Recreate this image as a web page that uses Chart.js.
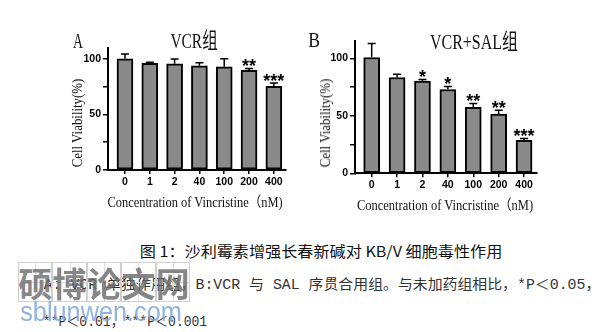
<!DOCTYPE html>
<html>
<head>
<meta charset="utf-8">
<script src="https://cdn.jsdelivr.net/npm/chart.js@4.4.1/dist/chart.umd.min.js"></script>
<style>
  body { margin: 0; width: 615px; height: 332px; background: #fff; position: relative; overflow: hidden; }
  canvas { position: absolute; }
  .t { position: absolute; white-space: nowrap; transform-origin: 0 0; line-height: 1; color: #111; }
  .box { position: absolute; border: 1px solid #cfcfcf; box-sizing: border-box; }
  .box::before { content: ''; position: absolute; left: 50%; top: 0; bottom: 0; border-left: 1px solid #dedede; }
  .box::after { content: ''; position: absolute; top: 50%; left: 0; right: 0; border-top: 1px solid #dedede; }
</style>
</head>
<body>
<canvas id="chartA" width="300" height="215" style="left:0;top:0"></canvas>
<canvas id="chartB" width="310" height="215" style="left:305px;top:0"></canvas>
<script>
const doses = ['0', '1', '2', '40', '100', '200', '400'];
const yTicks = [0, 25, 50, 75, 100];

// VCR alone
const vcrMean = [100, 95.9, 95.5, 93.7, 92.8, 89.6, 75.2];
const vcrErr = [4.2, 0.9, 4.2, 2.7, 7.2, 1.7, 3.0];
const vcrStars = ['', '', '', '', '', '**', '***'];

// VCR + SAL
const salMean = [100.9, 83.5, 80.3, 73.0, 57.4, 51.6, 28.7];
const salErr = [12.1, 2.8, 1.4, 2.7, 3.5, 3.4, 1.7];
const salStars = ['', '', '*', '*', '**', '**', '***'];

const tickFont = "'Liberation Sans Narrow', 'Liberation Sans', Arial, sans-serif";

// upper error bar with cap, plus significance stars
const errorBars = {
    id: 'errorBars',
    afterDatasetsDraw(chart, args, opts) {
        const { ctx } = chart;
        const y = chart.scales.y;
        const meta = chart.getDatasetMeta(0);
        const size = 18;
        ctx.save();
        ctx.strokeStyle = '#000';
        ctx.fillStyle = '#000';
        ctx.lineWidth = 1.5;
        ctx.font = `bold ${size}px 'Liberation Sans', Arial, sans-serif`;
        ctx.textAlign = 'center';
        ctx.textBaseline = 'alphabetic';
        meta.data.forEach((bar, i) => {
            const top = y.getPixelForValue(opts.means[i] + opts.errors[i]);
            ctx.beginPath();
            ctx.moveTo(bar.x, bar.y);
            ctx.lineTo(bar.x, top);
            ctx.moveTo(bar.x - 4, top);
            ctx.lineTo(bar.x + 4, top);
            ctx.stroke();
            if (opts.stars[i]) {
                ctx.fillText(opts.stars[i], bar.x, top - 6.5 + 0.57 * size);
            }
        });
        ctx.restore();
    }
};

function makeChart(id, means, errors, stars, g) {
    new Chart(document.getElementById(id), {
        type: 'bar',
        data: {
            datasets: [{
                data: means.map((v, i) => ({ x: i, y: v })),
                backgroundColor: '#8a8a8a',
                borderColor: '#000',
                borderWidth: 2,
                borderSkipped: false,
                barThickness: 16
            }]
        },
        options: {
            responsive: false,
            animation: false,
            layout: { padding: g.padding },
            plugins: {
                legend: { display: false },
                tooltip: { enabled: false },
                errorBars: { means, errors, stars }
            },
            scales: {
                x: {
                    type: 'linear',
                    min: g.xMin,
                    max: g.xMax,
                    offset: false,
                    afterBuildTicks: (s) => { s.ticks = doses.map((_, i) => ({ value: i })); },
                    afterFit: (s) => { s.height = 20; },
                    grid: { drawOnChartArea: false, offset: false, tickLength: 4, color: '#000', lineWidth: 1.5 },
                    border: { color: '#000', width: 2 },
                    ticks: {
                        callback: (v) => doses[v],
                        color: '#000',
                        padding: 2,
                        maxRotation: 0,
                        autoSkip: false,
                        font: { family: tickFont, size: 10.5, weight: 'bold' }
                    }
                },
                y: {
                    min: 0,
                    max: g.yMax,
                    afterBuildTicks: (s) => { s.ticks = yTicks.map((v) => ({ value: v })); },
                    afterFit: (s) => { s.width = 28; },
                    grid: { drawOnChartArea: false, tickLength: 5, color: '#000', lineWidth: 1.5 },
                    border: { color: '#000', width: 2 },
                    ticks: {
                        callback: (v) => (v % 50 === 0 ? String(v) : ''),
                        color: '#000',
                        padding: 2,
                        font: { family: tickFont, size: 10.5, weight: 'bold' }
                    }
                }
            }
        },
        plugins: [errorBars]
    });
}

makeChart('chartA', vcrMean, vcrErr, vcrStars, {
    padding: { left: 80, top: 47.6, right: 14, bottom: 25 },
    xMin: -0.685, xMax: 6.49, yMax: 110
});
makeChart('chartB', salMean, salErr, salStars, {
    padding: { left: 22, top: 41.3, right: 78, bottom: 21.7 },
    xMin: -0.657, xMax: 6.51, yMax: 115
});

// text placed by its centre and squeezed to the width seen in the picture
function label(text, x, y, w, font, opts = {}) {
    const el = document.createElement('div');
    el.className = 't';
    el.textContent = text;
    el.style.font = font;
    if (opts.color) el.style.color = opts.color;
    if (opts.opacity) el.style.opacity = opts.opacity;
    document.body.appendChild(el);
    const sx = w ? w / el.offsetWidth : 1;
    el.style.left = x + 'px';
    el.style.top = y + 'px';
    el.style.transform = `rotate(${opts.rot || 0}deg) scaleX(${sx}) translate(-50%, -50%)`;
}

const serif = "'Liberation Serif', 'Noto Sans CJK SC', serif";
label('A', 78, 40.5, 10, `22px ${serif}`);
label('VCR组', 193.5, 37.5, 47, `22px ${serif}`);
label('B', 314, 40, 12, `22px ${serif}`);
label('VCR+SAL组', 474, 38.5, 88, `22px ${serif}`);
label('Cell  Viability(%)', 78, 122.5, 89, `14px ${serif}`, { rot: -90 });
label('Cell  Viability(%)', 326, 122.5, 89, `14px ${serif}`, { rot: -90 });
label('Concentration of Vincristine（nM)', 194.5, 200, 175, `14.5px ${serif}`);
label('Concentration of Vincristine（nM)', 445, 202.7, 176, `14.5px ${serif}`);

label('图 1：沙利霉素增强长春新碱对 KB/V 细胞毒性作用', 321, 250, 362, "15px 'Noto Sans CJK SC', sans-serif");
label('A: VCR 单独作用组，B:VCR 与 SAL 序贯合用组。与未加药组相比，*P＜0.05，', 321.5, 283.3, 557,
    "14px 'Liberation Mono', 'Noto Sans CJK SC', monospace", { color: '#333' });
label('**P＜0.01，***P＜0.001', 125, 320, 164, "14px 'Liberation Mono', 'Noto Sans CJK SC', monospace", { color: '#333' });

// watermark
const markChars = ['硕', '博', '论', '文', '网'];
markChars.forEach((c, i) => {
    const b = document.createElement('div');
    b.className = 'box';
    b.style.left = (18 + i * 34.4) + 'px';
    b.style.top = '262px';
    b.style.width = '34.4px';
    b.style.height = '40px';
    document.body.appendChild(b);
    label(c, 18 + i * 34.4 + 17.2, 282, 0, "bold 34px 'Noto Sans CJK SC', sans-serif", { color: '#6a6a6a', opacity: 0.8 });
});
label('sblunwen.com', 101, 312, 162, "27px 'Liberation Sans', sans-serif", { color: '#7fa6da', opacity: 0.85 });
</script>
</body>
</html>
